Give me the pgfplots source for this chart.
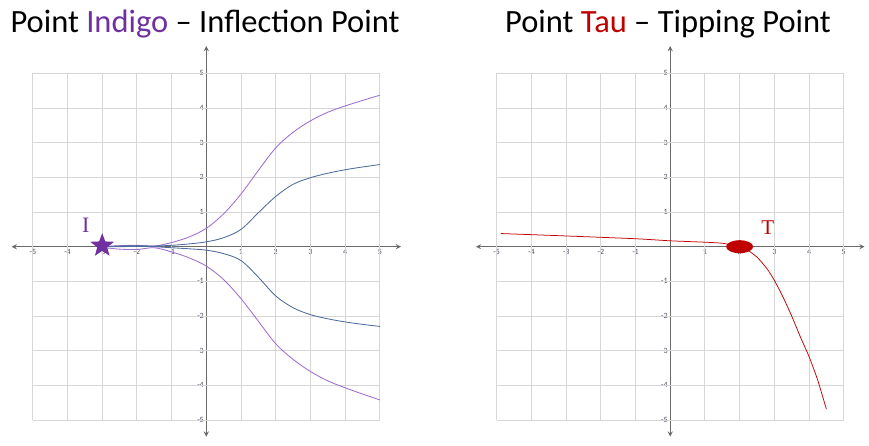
\documentclass[border=0pt]{standalone}
\usepackage{pgfplots}
\pgfplotsset{compat=1.18}
\usepackage{fontspec}
\setmainfont{Carlito}
\newfontfamily\serifl{Liberation Serif}
\usetikzlibrary{shapes.geometric}
\definecolor{indigo}{HTML}{7030A0}
\definecolor{lav}{HTML}{9F6ED2}
\definecolor{cblue}{HTML}{4D6C9E}
\definecolor{tred}{HTML}{C00000}
\definecolor{gridc}{HTML}{D6D6D6}
\definecolor{axc}{HTML}{6A6A6A}
\definecolor{tickc}{HTML}{4A4E62}
\pgfplotsset{
  myaxis/.style={
    x=34.7pt, y=34.66pt,
    anchor=south west,
    clip=false,
    axis lines=middle,
    every inner x axis line/.append style={-stealth, axc, line width=1.3pt},
    every inner y axis line/.append style={-stealth, axc, line width=1.3pt},
    axis line style={stealth-stealth},
    xtick={-5,-4,-3,-2,-1,1,2,3,4,5},
    ytick={-5,-4,-3,-2,-1,1,2,3,4,5},
    major tick length=0pt,
    /pgf/number format/assume math mode=true,
    tick label style={font=\fontsize{8}{9}\selectfont, text=tickc},
    xticklabel style={yshift=0.5pt},
    yticklabel style={xshift=1pt},
    ymin=-5.48, ymax=5.79,
  },
}
\begin{document}
\begin{tikzpicture}
\useasboundingbox (0,0) rectangle (869pt,445pt);
\node[anchor=base, font=\fontsize{32.5}{36}\selectfont] at (205pt,412pt) {Point \textcolor{indigo}{Indigo} -- Inflection Point};
\node[anchor=base, font=\fontsize{32.5}{36}\selectfont] at (668pt,412pt) {Point \textcolor{tred}{Tau} -- Tipping Point};

% left chart
\begin{axis}[myaxis, at={(11.64pt,8.36pt)}, xmin=-5.61, xmax=5.61]
\pgfplotsinvokeforeach{-5,-4,-3,-2,-1,1,2,3,4,5}{
  \draw[gridc, line width=0.9pt] (axis cs:#1,-5) -- (axis cs:#1,5);
  \draw[gridc, line width=0.9pt] (axis cs:-5,#1) -- (axis cs:5,#1);
}
\addplot[lav, line width=0.85pt, smooth, tension=0.55] coordinates {
(-3,0) (-2.5,0.03) (-2,0.04) (-1.5,0.02) (-1,0.12) (-0.5,0.28) (0,0.53) (0.5,0.95) (1,1.52) (1.5,2.2) (2,2.85) (2.5,3.3) (3,3.63) (3.5,3.88) (4,4.06) (4.5,4.22) (5,4.37)};
\addplot[cblue, line width=0.85pt, smooth, tension=0.55] coordinates {
(-3,0) (-2.5,0.02) (-2,0.03) (-1.5,0.02) (-1,0.04) (-0.5,0.08) (0,0.14) (0.5,0.26) (1,0.5) (1.5,0.98) (2,1.45) (2.5,1.8) (3,1.99) (3.5,2.12) (4,2.22) (4.5,2.3) (5,2.37)};
\addplot[cblue, line width=0.85pt, smooth, tension=0.55] coordinates {
(-3,0) (-2.5,0) (-2,0.01) (-1.5,0) (-1,-0.03) (-0.5,-0.06) (0,-0.1) (0.5,-0.2) (1,-0.4) (1.5,-0.88) (2,-1.42) (2.5,-1.76) (3,-1.96) (3.5,-2.08) (4,-2.17) (4.5,-2.24) (5,-2.3)};
\addplot[lav, line width=0.85pt, smooth, tension=0.55] coordinates {
(-3,-0.02) (-2.5,-0.07) (-2,-0.08) (-1.5,-0.03) (-1,-0.15) (-0.5,-0.32) (0,-0.56) (0.5,-0.95) (1,-1.5) (1.5,-2.15) (2,-2.8) (2.5,-3.25) (3,-3.6) (3.5,-3.87) (4,-4.07) (4.5,-4.25) (5,-4.42)};
\addplot[only marks, mark=text, text mark={}, text mark as node=true,
  text mark style={star, star points=5, star point ratio=2.4, fill=indigo, draw=none, minimum size=25pt, inner sep=0pt}]
  coordinates {(-3,0.03)};
\node[text=indigo, font=\serifl\fontsize{22}{24}\selectfont] at (axis cs:-3.47,0.61) {I};
\end{axis}

% right chart
\begin{axis}[myaxis, at={(475.9pt,8.36pt)}, xmin=-5.6, xmax=5.6]
\pgfplotsinvokeforeach{-5,-4,-3,-2,-1,1,2,3,4,5}{
  \draw[gridc, line width=0.9pt] (axis cs:#1,-5) -- (axis cs:#1,5);
  \draw[gridc, line width=0.9pt] (axis cs:-5,#1) -- (axis cs:5,#1);
}
\addplot[tred, line width=0.75pt, smooth, tension=0.4] coordinates {
(-4.88,0.38) (-3,0.31) (-1,0.23) (0,0.17) (1,0.13) (1.5,0.1) (1.8,0.04) (2,0) (2.2,-0.08) (2.5,-0.3) (2.8,-0.65) (3,-0.97) (3.25,-1.45) (3.5,-2.0) (3.75,-2.6) (4,-3.17) (4.25,-3.85) (4.5,-4.69)};
\addplot[only marks, mark=text, text mark={}, text mark as node=true,
  text mark style={ellipse, fill=tred, draw=none, minimum width=27pt, minimum height=13pt, inner sep=0pt}]
  coordinates {(2,0)};
\node[text=tred, font=\serifl\fontsize{21}{24}\selectfont] at (axis cs:2.81,0.56) {T};
\end{axis}
\end{tikzpicture}
\end{document}
